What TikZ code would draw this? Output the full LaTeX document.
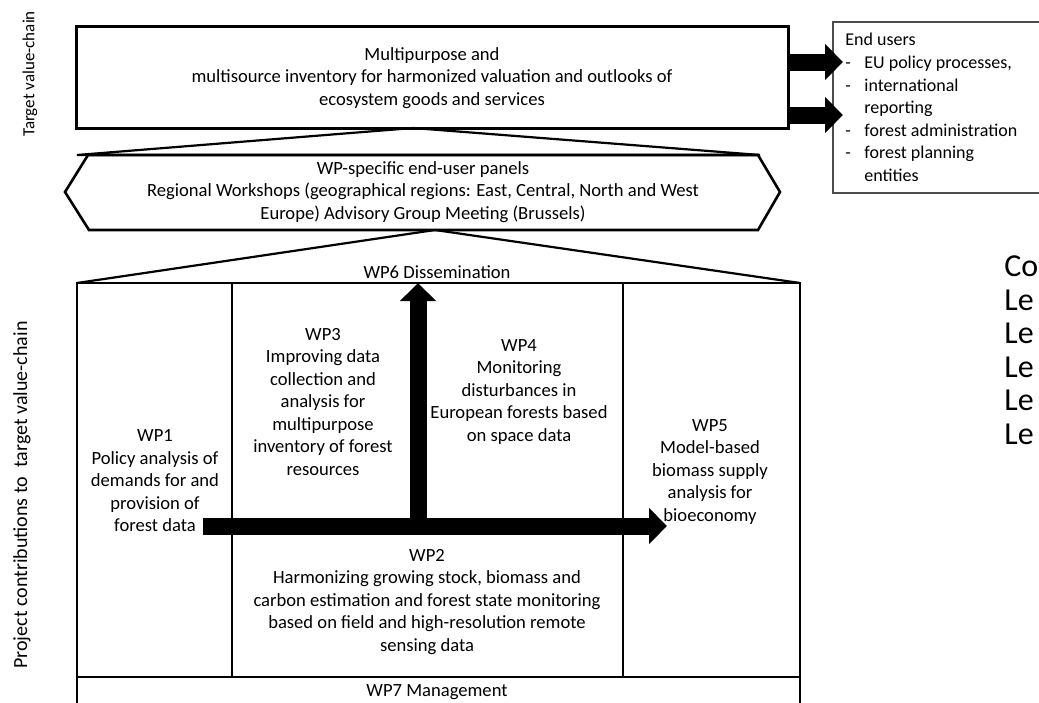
\documentclass[tikz,border=0pt]{standalone}
\usepackage{fontspec}
\setmainfont{Carlito}
\usetikzlibrary{arrows.meta,fit}
\tikzset{
  box/.style={draw, line width=1.3pt, inner sep=0pt},
  txt/.style={align=center, inner sep=0pt, font=\fontsize{9.3}{11.25}\selectfont},
  bigarrow/.style={line width=8.5pt, -{Triangle[length=9pt,width=17.5pt]}},
}
\newcommand{\useritem}[1]{\makebox[9.5pt][l]{-}#1}
\begin{document}
\begin{tikzpicture}[x=0.5pt,y=-0.5pt]
  \useasboundingbox (0,0) rectangle (1039,702) ;
  \clip (0,0) rectangle (1039,702) ;
  \node[txt, rotate=90, font=\fontsize{8.5}{10}\selectfont] (tvc) at (30,74) {Target value-chain} ;
  \node[txt, rotate=90, font=\fontsize{10}{12}\selectfont] (pcv) at (22,495) {Project contributions to\ \ target value-chain} ;
  \node[box, line width=1.5pt, fit={(76,26) (788,128)}] (inv) {} ;
  \node[txt] (invtxt) at (432,78) {Multipurpose and\\multisource inventory for harmonized valuation and outlooks of\\ecosystem goods and services} ;
  \node[draw=black!70, line width=0.7pt, inner sep=0pt, fit={(833,22) (1060,193)}] (users) {} ;
  \node[txt, align=left, anchor=north west, font=\fontsize{9}{11.3}\selectfont] (userlist) at (845,33) {End users\\\useritem{EU policy processes,}\\\useritem{international}\\\hspace*{9.5pt}reporting\\\useritem{forest administration}\\\useritem{forest planning}\\\hspace*{9.5pt}entities} ;
  \coordinate (eu1) at (843,62) ;
  \coordinate (eu2) at (843,115) ;
  \draw[bigarrow] (inv.east |- eu1) -- (eu1) ;
  \draw[bigarrow] (inv.east |- eu2) -- (eu2) ;
  \coordinate (apex1) at (413,128) ;
  \draw[line width=1.1pt] (77,155) -- (apex1) -- (760,155) -- cycle ;
  \draw[line width=1.3pt] (88,155) -- (758,155) -- (780,192) -- (758,230) -- (89,230) -- (65,192) -- cycle ;
  \node[txt] (panels) at (423,192) {WP-specific end-user panels\\Regional Workshops (geographical regions: East, Central, North and West\\Europe) Advisory Group Meeting (Brussels)} ;
  \coordinate (apex2) at (435,230) ;
  \draw[line width=1.1pt] (77,283) -- (apex2) -- (800,283) ;
  \node[txt] (wp6) at (437,272) {WP6 Dissemination} ;
  \node[box, fit={(77,283) (800,677)}] (wpbox) {} ;
  \draw[line width=1.3pt] (232,283) -- (232,677) ;
  \draw[line width=1.3pt] (623,283) -- (623,677) ;
  \node[box, fit={(77,677) (800,720)}] (wp7box) {} ;
  \node[txt] (wp7) at (437,692) {WP7 Management} ;
  \node[txt] (wp1) at (155,481) {WP1\\Policy analysis of\\demands for and\\provision of\\forest data} ;
  \node[txt] (wp3) at (323,402) {WP3\\Improving data\\collection and\\analysis for\\multipurpose\\inventory of forest\\resources} ;
  \node[txt] (wp4) at (519,392) {WP4\\Monitoring\\disturbances in\\European forests based\\on space data} ;
  \node[txt] (wp2) at (427,602) {WP2\\Harmonizing growing stock, biomass and\\carbon estimation and forest state monitoring\\based on field and high-resolution remote\\sensing data} ;
  \node[txt] (wp5) at (710,472) {WP5\\Model-based\\biomass supply\\analysis for\\bioeconomy} ;
  \coordinate (flow-s) at (203,526) ;
  \coordinate (flow-e) at (667,526) ;
  \coordinate (diss) at (418,283) ;
  \draw[bigarrow] (flow-s) -- (flow-e) ;
  \draw[bigarrow] ([yshift=-4pt]diss |- flow-s) -- (diss) ;
  \node[txt, align=left, anchor=west, font=\fontsize{16}{16.75}\selectfont] (cont) at (1004,350) {Co\\Le\\Le\\Le\\Le\\Le} ;
\end{tikzpicture}
\end{document}
